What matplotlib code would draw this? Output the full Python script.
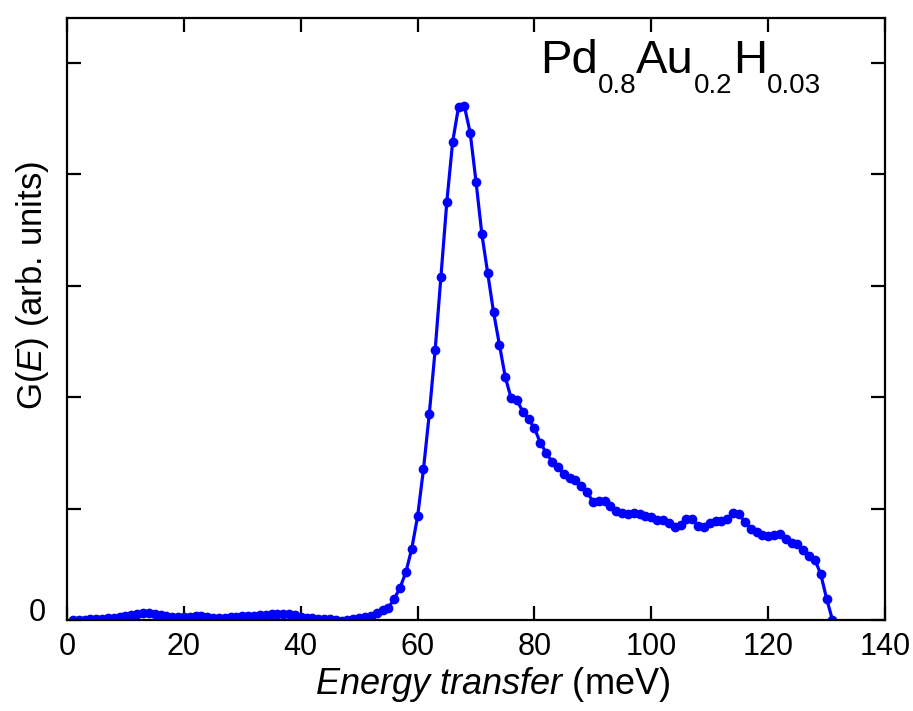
import matplotlib
matplotlib.use("Agg")
import matplotlib.pyplot as plt
import matplotlib.transforms as mtransforms
import numpy as np

plt.rcParams['font.family'] = ['Liberation Sans', 'DejaVu Sans']
plt.rcParams['mathtext.fontset'] = 'custom'
plt.rcParams['mathtext.rm'] = 'Liberation Sans'
plt.rcParams['mathtext.it'] = 'Liberation Sans:italic'

# energy transfer (meV) and G(E) (arb. units)
energy = np.arange(1, 132)
g_low = [0.0, 0.0, 0.0, 0.005, 0.008, 0.01, 0.015, 0.02, 0.025, 0.035,
         0.045, 0.055, 0.065, 0.065, 0.055, 0.045, 0.035, 0.03, 0.025, 0.025,
         0.03, 0.035, 0.035, 0.03, 0.02, 0.015, 0.02, 0.025, 0.03, 0.035,
         0.04, 0.04, 0.045, 0.045, 0.05, 0.05, 0.05, 0.05, 0.045, 0.03,
         0.02, 0.015, 0.01, 0.01, 0.005, 0.0, -0.005, 0.0, 0.005, 0.015,
         0.025, 0.04]
g_peak = [0.065, 0.09, 0.11, 0.19, 0.29, 0.43, 0.64, 0.93, 1.35, 1.85,
          2.42, 3.08, 3.75, 4.29, 4.60, 4.61, 4.37, 3.93, 3.46, 3.11,
          2.76, 2.47, 2.18, 1.99, 1.97, 1.87, 1.80, 1.72, 1.59, 1.50,
          1.42, 1.37, 1.31, 1.27, 1.26, 1.20, 1.15, 1.06, 1.07, 1.07]
g_tail = [1.02, 0.98, 0.96, 0.95, 0.96, 0.95, 0.93, 0.92, 0.90, 0.90,
          0.87, 0.83, 0.85, 0.91, 0.91, 0.84, 0.83, 0.87, 0.89, 0.89,
          0.91, 0.96, 0.95, 0.88, 0.82, 0.79, 0.76, 0.75, 0.76, 0.77,
          0.73, 0.69, 0.68, 0.63, 0.57, 0.54, 0.41, 0.19, 0.0]
g_e = np.array(g_low + g_peak + g_tail)

fig = plt.figure(figsize=(9.13, 7.11), dpi=100)
ax = fig.add_axes([0.0734, 0.128, 0.896, 0.8467])

ax.plot(energy, g_e, color='#0000ff', lw=2.3, marker='o', ms=6, mec='#0000ff')

ax.set_xlim(0, 140)
ax.set_ylim(0, 5.4)
ax.set_xticks(np.arange(0, 141, 20))
ax.set_yticks(np.arange(0, 6, 1))
ax.set_yticklabels(['0', '', '', '', '', ''])

ax.tick_params(direction='in', length=10, width=1.6, top=True, right=True,
               labelsize=22)
ax.tick_params(axis='x', pad=9)
ax.tick_params(axis='y', pad=15)
for s in ax.spines.values():
    s.set_linewidth(1.6)

# lift the "0" label a little, as in the original
lift = mtransforms.ScaledTranslation(0, 10 / 100, fig.dpi_scale_trans)
for lbl in ax.get_yticklabels():
    lbl.set_transform(lbl.get_transform() + lift)

ax.set_xlabel(r'$Energy\ transfer$ (meV)', fontsize=26)
ax.set_ylabel(r'G($E$) (arb. units)', fontsize=25)
ax.xaxis.set_label_coords(0.52, -0.075)
ax.yaxis.set_label_coords(-0.02, 0.555)

# formula label: main text and lowered subscripts, chained left to right
fig.canvas.draw()
renderer = fig.canvas.get_renderer()
pieces = [('Pd', 34, 0), ('0.8', 20, -20), ('Au', 34, 0), ('0.2', 20, -20),
          ('H', 34, 0), ('0.03', 20, -20)]
x0, y0 = 540, 711 - 73
for txt, size, dy in pieces:
    t = fig.text(x0 / 913, (y0 + dy) / 711, txt, fontsize=size,
                 ha='left', va='baseline')
    bb = t.get_window_extent(renderer=renderer)
    x0 = bb.x1

fig.savefig('out.png', dpi=100)
